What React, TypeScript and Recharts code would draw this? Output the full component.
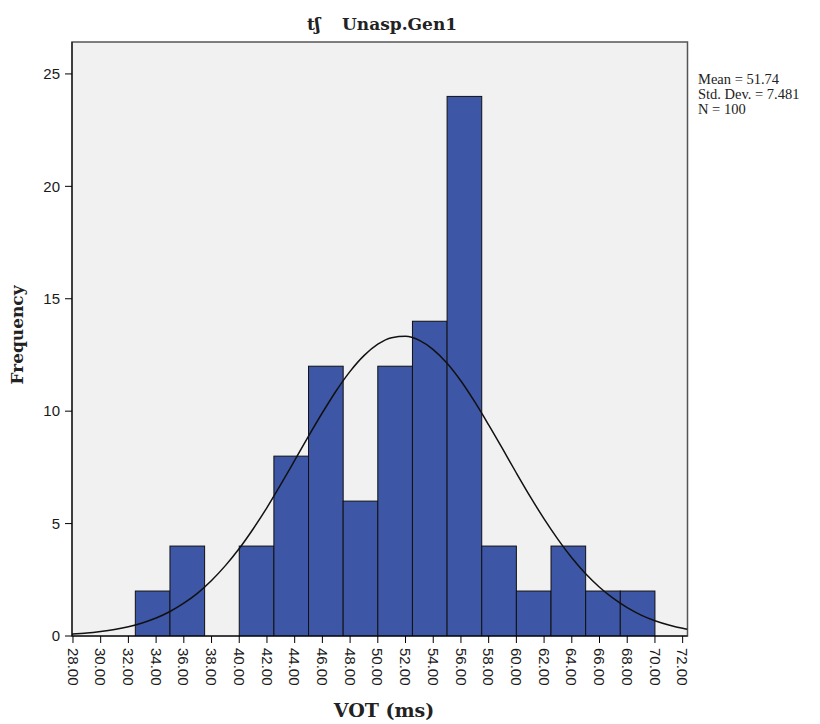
import React from 'react';
import {
  Bar,
  ComposedChart,
  Line,
  ReferenceArea,
  XAxis,
  YAxis,
} from 'recharts';

// histogram bins (width 2.5, starting at 32.5)
const binCenters = [33.75, 36.25, 38.75, 41.25, 43.75, 46.25, 48.75, 51.25, 53.75, 56.25, 58.75, 61.25, 63.75, 66.25, 68.75];
const binCounts = [2, 4, 0, 4, 8, 12, 6, 12, 14, 24, 4, 2, 4, 2, 2];
const BIN_WIDTH = 2.5;

// normal curve
const curveX = [27.93, 28, 29, 30, 31, 32, 33, 34, 35, 36, 37, 38, 39, 40, 41, 42, 43, 44, 45, 46, 47, 48, 49, 50, 51, 52, 53, 54, 55, 56, 57, 58, 59, 60, 61, 62, 63, 64, 65, 66, 67, 68, 69, 70, 71, 72, 72.35];
const curveY = [0.08, 0.09, 0.13, 0.2, 0.29, 0.41, 0.58, 0.8, 1.09, 1.46, 1.91, 2.47, 3.13, 3.89, 4.76, 5.71, 6.74, 7.81, 8.89, 9.93, 10.91, 11.77, 12.47, 12.98, 13.27, 13.33, 13.15, 12.74, 12.13, 11.34, 10.41, 9.39, 8.33, 7.25, 6.2, 5.21, 4.3, 3.48, 2.77, 2.17, 1.67, 1.26, 0.93, 0.68, 0.49, 0.34, 0.3];

const xTicks = [28, 30, 32, 34, 36, 38, 40, 42, 44, 46, 48, 50, 52, 54, 56, 58, 60, 62, 64, 66, 68, 70, 72];
const yTicks = [0, 5, 10, 15, 20, 25];

const statsLines = ['Mean = 51.74', 'Std. Dev. = 7.481', 'N = 100'];

const X_MIN = 27.93;
const X_MAX = 72.35;
const Y_MAX = 26.42;

const W = 804;
const H = 716;
const CHART_H = 712;
const margin = { top: 34, right: 124.5, bottom: 34, left: 0 };
const Y_AXIS_W = 64;
const PLOT_W = W - margin.left - margin.right - Y_AXIS_W;
const binPx = (BIN_WIDTH * PLOT_W) / (X_MAX - X_MIN);

const binData = binCenters.map((x, i) => ({ x, count: binCounts[i] }));
const curveData = curveX.map((x, i) => ({ x, y: curveY[i] }));

const sans = '"Liberation Sans", Arial, sans-serif';
const serif = '"DejaVu Serif", serif';

const BinShape = (props: any) => {
  const { x, width, y, height } = props;
  if (!height) return null;
  const cx = x + width / 2;
  return (
    <rect
      x={cx - binPx / 2}
      y={y}
      width={binPx}
      height={height}
      fill="#3D56A6"
      stroke="#111"
      strokeWidth={1}
    />
  );
};

const XTick = ({ x, y, payload }: any) => (
  <g transform={`translate(${x},${y})`}>
    <text
      transform="rotate(90)"
      x={3}
      y={0}
      dy="0.36em"
      textAnchor="start"
      fontSize={15}
      fontFamily={sans}
      fill="#1a1a1a"
    >
      {Number(payload.value).toFixed(2)}
    </text>
  </g>
);

const App = () => {
  return (
    <div style={{ position: 'relative', width: W, height: H, background: '#fff' }}>
      <ComposedChart width={W} height={CHART_H} data={binData} margin={margin}>
        <XAxis
          dataKey="x"
          type="number"
          domain={[X_MIN, X_MAX]}
          ticks={xTicks}
          interval={0}
          allowDataOverflow
          height={50}
          tickSize={7}
          tickMargin={2}
          tick={<XTick />}
          stroke="#000"
        />
        <YAxis
          type="number"
          domain={[0, Y_MAX]}
          ticks={yTicks}
          allowDataOverflow
          width={Y_AXIS_W}
          tickSize={7}
          tickMargin={5}
          tick={{ fontSize: 15, fill: '#1a1a1a', fontFamily: sans }}
          stroke="#000"
        />
        <ReferenceArea x1={X_MIN} x2={X_MAX} y1={0} y2={Y_MAX} fill="#F0F1F0" fillOpacity={1} stroke="none" />
        <Bar dataKey="count" shape={<BinShape />} barCategoryGap={0} isAnimationActive={false} />
        <Line
          data={curveData}
          dataKey="y"
          type="monotone"
          stroke="#111"
          strokeWidth={1.5}
          dot={false}
          activeDot={false}
          isAnimationActive={false}
        />
        <ReferenceArea x1={X_MIN} x2={X_MAX} y1={0} y2={Y_MAX} fill="none" stroke="#555" strokeWidth={1.5} />
      </ComposedChart>
      <svg
        width={W}
        height={H}
        style={{ position: 'absolute', left: 0, top: 0, pointerEvents: 'none' }}
      >
        <text x={299} y={22} fontSize={17} fontWeight="bold" fontFamily={serif} fill="#222">
          tʃ
        </text>
        <text x={334} y={22} fontSize={17} fontWeight="bold" fontFamily={serif} fill="#222">
          Unasp.Gen1
        </text>
        <text x={376} y={709} textAnchor="middle" fontSize={19} fontWeight="bold" fontFamily={serif} fill="#222">
          VOT (ms)
        </text>
        <text
          transform="translate(15,327) rotate(-90)"
          textAnchor="middle"
          fontSize={17}
          fontWeight="bold"
          fontFamily={serif}
          fill="#222"
        >
          Frequency
        </text>
        {statsLines.map((s, i) => (
          <text key={s} x={690} y={76 + i * 15} fontSize={14.5} fontFamily='"Liberation Serif", serif' fill="#222">
            {s}
          </text>
        ))}
      </svg>
    </div>
  );
};

export default App;
